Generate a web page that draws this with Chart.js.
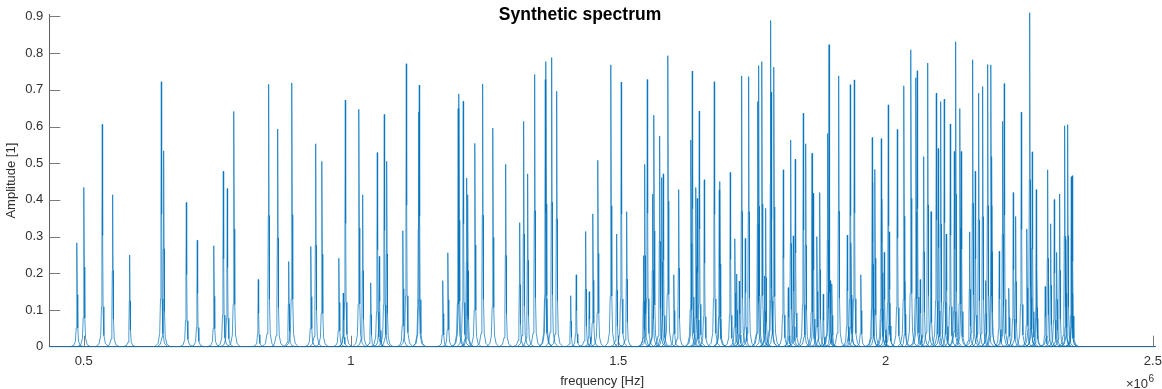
<!DOCTYPE html>
<html>
<head>
<meta charset="utf-8">
<script src="https://cdn.jsdelivr.net/npm/chart.js@4.4.1/dist/chart.umd.min.js"></script>
<style>
  html, body { margin: 0; padding: 0; background: #ffffff; }
  #wrap { width: 1162px; height: 389px; position: relative; }
</style>
</head>
<body>
<div id="wrap"><canvas id="c" width="1162" height="389"></canvas></div>
<script>
// ---------------- data ----------------
const chartTitle = 'Synthetic spectrum';
const xAxisLabel = 'frequency [Hz]';
const yAxisLabel = 'Amplitude [1]';
const xExponentBase = '\u00d710';
const xExponent = '6';

const xTickValues = [500000, 1000000, 1500000, 2000000, 2500000];
const yTickValues = [0, 0.1, 0.2, 0.3, 0.4, 0.5, 0.6, 0.7, 0.8, 0.9];
const xLimits = [435700, 2504000];
const yLimits = [0, 0.905];

// peak centre frequencies in MHz
const peakFreqMHz = [
  0.4875, 0.5006, 0.5348, 0.5542, 0.586, 0.6452, 0.6496, 0.692, 0.7125, 0.7437,
  0.7612, 0.7686, 0.7811, 0.8266, 0.846, 0.8629, 0.8835, 0.8896, 0.9252, 0.934,
  0.9458, 0.9776, 0.9856, 0.9894, 1.015, 1.0219, 1.0369, 1.0492, 1.053, 1.0623,
  1.0668, 1.0973, 1.1035, 1.1265, 1.1278, 1.172, 1.1815, 1.2005, 1.202, 1.210,
  1.2164, 1.2183, 1.232, 1.2463, 1.2656, 1.2894, 1.3156, 1.323, 1.3305, 1.3436,
  1.3635, 1.3648, 1.3754, 1.3848, 1.411, 1.4214, 1.439, 1.4457, 1.4527, 1.462,
  1.4864, 1.497, 1.5056, 1.5157, 1.5475, 1.5494, 1.5543, 1.5643, 1.5668, 1.5774,
  1.5812, 1.5842, 1.593, 1.6042, 1.613, 1.636, 1.6384, 1.6453, 1.6478, 1.6515,
  1.6609, 1.6796, 1.6889, 1.6902, 1.7095, 1.7183, 1.7215, 1.7264, 1.7308, 1.7376,
  1.7439, 1.7608, 1.7626, 1.7688, 1.7738, 1.7757, 1.785, 1.7862, 1.7912, 1.8087,
  1.818, 1.8225, 1.8274, 1.8311, 1.8461, 1.8506, 1.8624, 1.8648, 1.8717, 1.8768,
  1.8835, 1.8917, 1.8942, 1.8966, 1.8997, 1.9123, 1.9284, 1.934, 1.9353, 1.9415,
  1.954, 1.9751, 1.9759, 1.9802, 1.992, 1.9933, 1.9976, 2.0051, 2.007, 2.022,
  2.0344, 2.0363, 2.0475, 2.0569, 2.0593, 2.0649, 2.0713, 2.0788, 2.085, 2.0949,
  2.0986, 2.1031, 2.1098, 2.1136, 2.1211, 2.1286, 2.1311, 2.1392, 2.1417, 2.1573,
  2.1629, 2.1678, 2.1741, 2.1816, 2.1872, 2.191, 2.1972, 2.1984, 2.2127, 2.219,
  2.222, 2.2308, 2.2389, 2.2433, 2.2539, 2.2645, 2.2696, 2.272, 2.2744, 2.2819,
  2.2826, 2.2987, 2.3032, 2.3088, 2.3156, 2.32, 2.3256, 2.335, 2.3374, 2.3406,
  2.3474, 2.3485, 2.3493
];

// peak amplitudes
const peakAmp = [
  0.283, 0.434, 0.606, 0.414, 0.25, 0.722, 0.534, 0.393, 0.29, 0.275,
  0.478, 0.431, 0.641, 0.183, 0.715, 0.593, 0.232, 0.719, 0.273, 0.553,
  0.505, 0.241, 0.146, 0.672, 0.647, 0.414, 0.174, 0.529, 0.246, 0.633,
  0.505, 0.316, 0.771, 0.64, 0.713, 0.18, 0.256, 0.649, 0.689, 0.669,
  0.46, 0.414, 0.554, 0.716, 0.596, 0.497, 0.338, 0.614, 0.471, 0.742,
  0.728, 0.777, 0.788, 0.696, 0.139, 0.196, 0.314, 0.15, 0.362, 0.508,
  0.768, 0.307, 0.721, 0.368, 0.248, 0.497, 0.728, 0.416, 0.631, 0.574,
  0.461, 0.471, 0.793, 0.196, 0.428, 0.563, 0.751, 0.434, 0.404, 0.642,
  0.455, 0.722, 0.427, 0.45, 0.475, 0.294, 0.198, 0.179, 0.738, 0.295,
  0.736, 0.668, 0.766, 0.777, 0.193, 0.377, 0.889, 0.693, 0.762, 0.482,
  0.161, 0.563, 0.302, 0.511, 0.636, 0.553, 0.527, 0.418, 0.3, 0.42,
  0.143, 0.581, 0.823, 0.18, 0.171, 0.738, 0.304, 0.714, 0.283, 0.727,
  0.196, 0.57, 0.448, 0.483, 0.567, 0.403, 0.257, 0.659, 0.313, 0.592,
  0.711, 0.177, 0.809, 0.733, 0.752, 0.183, 0.518, 0.773, 0.368, 0.691,
  0.54, 0.668, 0.675, 0.307, 0.607, 0.532, 0.831, 0.649, 0.532, 0.313,
  0.782, 0.478, 0.691, 0.709, 0.18, 0.769, 0.768, 0.518, 0.26, 0.614,
  0.717, 0.159, 0.42, 0.355, 0.639, 0.321, 0.91, 0.269, 0.531, 0.428,
  0.213, 0.164, 0.482, 0.335, 0.401, 0.257, 0.416, 0.602, 0.292, 0.605,
  0.463, 0.29, 0.466
];

// ---------------- styling ----------------
const LINE_COLOR = '#0072BD';
const AXIS_COLOR = '#5f5f5f';
const TICK_COLOR = '#7a7a7a';
const TEXT_COLOR = '#303030';
const FONT = '"Liberation Sans", Arial, Helvetica, sans-serif';
// drawing profile of one spectral line: [offset in Hz, fraction of the peak height]
const PEAK_SHAPE = [
  [-12000, 0], [-6000, 0.013], [-3000, 0.05], [-1500, 0.18], [-700, 0.5],
  [0, 1],
  [700, 0.5], [1500, 0.18], [3000, 0.05], [6000, 0.013], [12000, 0]
];

// build the line dataset from the peak arrays
const spectrumPoints = [];
peakFreqMHz.forEach((fMHz, i) => {
  const hz = fMHz * 1e6;
  PEAK_SHAPE.forEach(([dx, k]) => spectrumPoints.push({ x: hz + dx, y: peakAmp[i] * k }));
  spectrumPoints.push({ x: hz + PEAK_SHAPE[PEAK_SHAPE.length - 1][0], y: null });
});
const baselinePoints = [{ x: xLimits[0], y: 0 }, { x: xLimits[1], y: 0 }];

const decor = {
  id: 'decor',
  beforeDatasetsDraw(chart) {
    const { ctx, chartArea, scales } = chart;
    ctx.save();
    ctx.strokeStyle = TICK_COLOR;
    ctx.lineWidth = 1;
    ctx.beginPath();
    yTickValues.forEach(v => {
      if (v === 0) return;
      const y = Math.round(scales.y.getPixelForValue(v)) + 0.5;
      ctx.moveTo(chartArea.left, y);
      ctx.lineTo(chartArea.left + 11, y);
    });
    xTickValues.forEach(v => {
      const x = Math.round(scales.x.getPixelForValue(v)) + 0.5;
      ctx.moveTo(x, chartArea.bottom);
      ctx.lineTo(x, chartArea.bottom - 11);
    });
    ctx.stroke();
    ctx.restore();
  },
  afterDraw(chart) {
    const { ctx } = chart;
    ctx.save();
    ctx.fillStyle = '#000000';
    ctx.font = 'bold 17.5px ' + FONT;
    ctx.textAlign = 'center';
    ctx.textBaseline = 'alphabetic';
    ctx.fillText(chartTitle, 580, 20);

    ctx.fillStyle = TEXT_COLOR;
    ctx.textAlign = 'left';
    ctx.font = '13px ' + FONT;
    const baseX = 1126;
    ctx.fillText(xExponentBase, baseX, 388);
    const w = ctx.measureText(xExponentBase).width;
    ctx.font = '10px ' + FONT;
    ctx.fillText(xExponent, baseX + w + 0.5, 382);
    ctx.restore();
  }
};

new Chart(document.getElementById('c'), {
  type: 'line',
  data: {
    datasets: [
      {
        data: baselinePoints,
        borderColor: LINE_COLOR,
        borderWidth: 0.7,
        pointRadius: 0,
        tension: 0,
        clip: false
      },
      {
        data: spectrumPoints,
        borderColor: LINE_COLOR,
        borderWidth: 0.7,
        pointRadius: 0,
        tension: 0,
        spanGaps: false,
        clip: false
      }
    ]
  },
  options: {
    responsive: false,
    animation: false,
    events: [],
    layout: { padding: { left: 0, right: 7, top: 14.6, bottom: 0 } },
    plugins: {
      legend: { display: false },
      tooltip: { enabled: false },
      title: { display: false }
    },
    scales: {
      x: {
        type: 'linear',
        min: xLimits[0],
        max: xLimits[1],
        afterBuildTicks(s) { s.ticks = xTickValues.map(v => ({ value: v })); },
        afterFit(s) { s.height = 42.3; s.paddingLeft = 0; s.paddingRight = 0; },
        ticks: {
          autoSkip: false,
          maxRotation: 0,
          padding: 7,
          color: TEXT_COLOR,
          font: { family: FONT, size: 13 },
          callback: v => String(v / 1e6)
        },
        grid: { display: false, drawTicks: false },
        border: { display: true, color: AXIS_COLOR, width: 1 },
        title: {
          display: true,
          text: xAxisLabel,
          color: TEXT_COLOR,
          font: { family: FONT, size: 13 },
          padding: { top: 0, bottom: 0 }
        }
      },
      y: {
        type: 'linear',
        min: yLimits[0],
        max: yLimits[1],
        afterBuildTicks(s) { s.ticks = yTickValues.map(v => ({ value: v })); },
        afterFit(s) { s.width = 49.3; s.paddingTop = 0; s.paddingBottom = 0; },
        ticks: {
          autoSkip: false,
          padding: 6,
          color: TEXT_COLOR,
          font: { family: FONT, size: 13 },
          callback: v => String(v)
        },
        grid: { display: false, drawTicks: false },
        border: { display: true, color: AXIS_COLOR, width: 1 },
        title: {
          display: true,
          text: yAxisLabel,
          color: TEXT_COLOR,
          font: { family: FONT, size: 13 },
          padding: { top: 4, bottom: 0 }
        }
      }
    }
  },
  plugins: [decor]
});
</script>
</body>
</html>
